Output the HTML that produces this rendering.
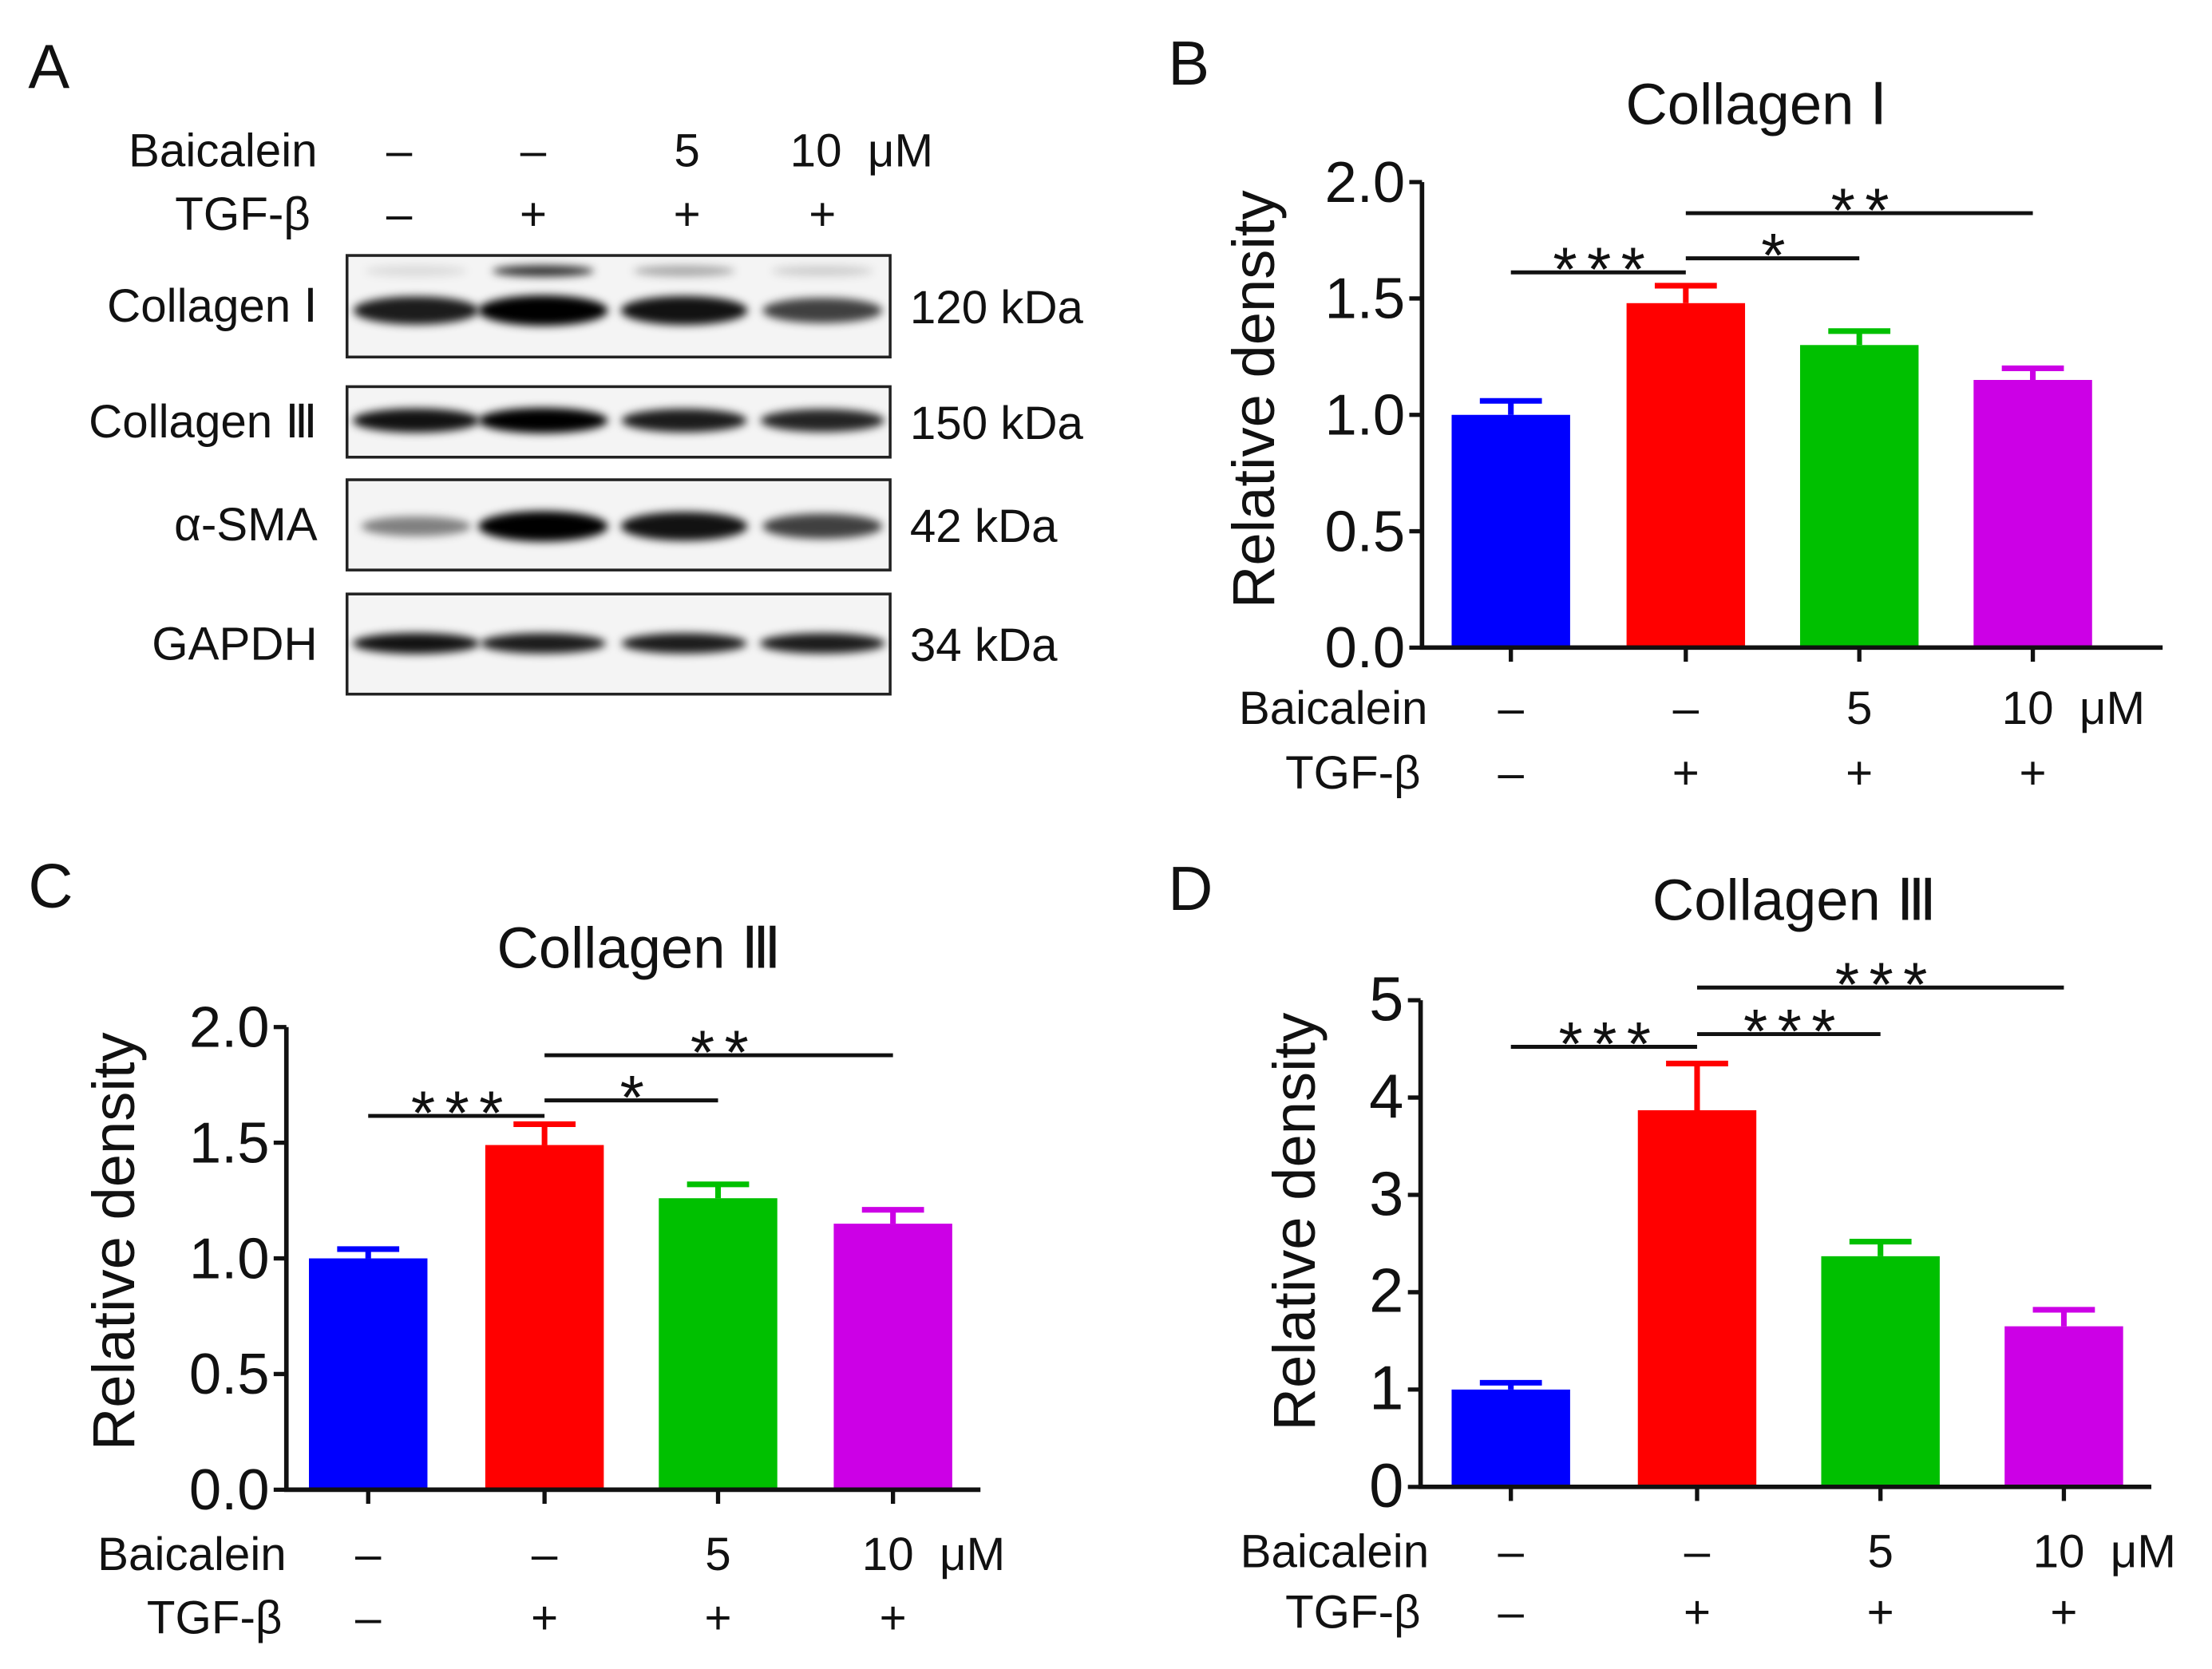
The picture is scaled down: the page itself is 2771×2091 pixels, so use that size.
<!DOCTYPE html>
<html><head><meta charset="utf-8"><style>
html,body{margin:0;padding:0;background:#fff}
svg{display:block}
text{font-family:"Liberation Sans","DejaVu Sans","Noto Sans CJK SC",sans-serif;fill:#111}
</style></head><body>
<svg id="fig" width="2771" height="2091" viewBox="0 0 1568 1183" xmlns="http://www.w3.org/2000/svg">
<defs><filter id="blur" x="-20%" y="-100%" width="140%" height="300%"><feGaussianBlur stdDeviation="3"/></filter></defs>
<g id="panelA">
<text x="20" y="62" font-size="44">A</text>
<text x="225" y="118" font-size="33" text-anchor="end">Baicalein</text>
<text x="220" y="163" font-size="33" text-anchor="end">TGF-β</text>
<text x="283" y="118" font-size="33" text-anchor="middle">–</text>
<text x="378" y="118" font-size="33" text-anchor="middle">–</text>
<text x="487" y="118" font-size="33" text-anchor="middle">5</text>
<text x="560" y="118" font-size="33">10&#160;&#160;μM</text>
<text x="283" y="163" font-size="33" text-anchor="middle">–</text>
<text x="378" y="163" font-size="33" text-anchor="middle">+</text>
<text x="487" y="163" font-size="33" text-anchor="middle">+</text>
<text x="583" y="163" font-size="33" text-anchor="middle">+</text>
</g>
<g id="panelB"></g>
<g id="panelC"></g>
<g id="panelD"></g>
</svg>
<script>
const NS="http://www.w3.org/2000/svg";
// Panel B data
const catsB=["Control","TGF-β","TGF-β+Baicalein 5","TGF-β+Baicalein 10"];
const valsB=[1.0,1.48,1.30,1.15];
const errB=[1.06,1.555,1.36,1.20];
const ticksB=["0.0","0.5","1.0","1.5","2.0"];
// Panel C data
const valsC=[1.0,1.49,1.26,1.15];
const errC=[1.04,1.58,1.32,1.21];
const ticksC=["0.0","0.5","1.0","1.5","2.0"];
// Panel D data
const valsD=[1.0,3.87,2.37,1.65];
const errD=[1.07,4.35,2.52,1.82];
const ticksD=["0","1","2","3","4","5"];
const colors=["#0000ff","#ff0000","#00c000","#cc00e6"];
const sigB=[[0,1,"***"],[1,2,"*"],[1,3,"**"]];
const sigC=[[0,1,"***"],[1,2,"*"],[1,3,"**"]];
const sigD=[[0,1,"***"],[1,2,"***"],[1,3,"***"]];
// Blot band intensities (0-1) per lane
const bandsCol1=[0.85,1.0,0.9,0.65];
const bandsCol3=[0.9,1.0,0.85,0.8];
const bandsSMA=[0.3,1.0,0.9,0.65];
const bandsGAPDH=[0.9,0.85,0.85,0.85];

function el(parent,tag,attrs,txt){const e=document.createElementNS(NS,tag);for(const k in attrs)e.setAttribute(k,attrs[k]);if(txt!==undefined)e.textContent=txt;parent.appendChild(e);return e;}

const pA=document.getElementById('panelA');
const lanes=[295,385,485,583];
const blots=[
 {y:181,h:72,label:"Collagen Ⅰ",kda:"120 kDa",bands:bandsCol1,by:220,bh:18,upper:true},
 {y:274,h:50,label:"Collagen Ⅲ",kda:"150 kDa",bands:bandsCol3,by:298,bh:15},
 {y:340,h:64,label:"α-SMA",kda:"42 kDa",bands:bandsSMA,by:373,bh:18},
 {y:421,h:71,label:"GAPDH",kda:"34 kDa",bands:bandsGAPDH,by:456,bh:13}
];
blots.forEach((b,bi)=>{
 const g=el(pA,'g',{});
 
 
 el(g,'rect',{x:246,y:b.y,width:385,height:b.h,fill:"#f4f4f4",stroke:"#222","stroke-width":2});
 b.bands.forEach((v,i)=>{
  const band=el(g,'ellipse',{cx:lanes[i],cy:b.by,rx:36+10*v,ry:b.bh/2*(0.6+0.6*v),fill:"rgb(0,0,0)","fill-opacity":0.25+0.75*v,filter:"url(#blur)"});
  
  
  if(b.upper){el(g,'ellipse',{cx:lanes[i],cy:192,rx:36,ry:4,fill:"#000","fill-opacity":[0.1,0.8,0.3,0.15][i],filter:"url(#blur)"});}
 });
 const t=el(pA,'text',{x:225,y:b.y+b.h/2+11,"font-size":33,"text-anchor":"end"},b.label);
 
 
 const k=el(pA,'text',{x:645,y:b.y+b.h/2+12,"font-size":33},b.kda);
 
 
});

function chart(id,cfg){
 const g=document.getElementById(id);
 const {ax,axEnd,y0,yTop,max,centers,vals,errs,ticks,sig,sigY,title,titleX,titleY,letter,lx,ly,ylabX,ylabY,rowB,rowT,baicX,tgfX,tickFont}=cfg;
 const y=v=>y0-(v/max)*(y0-yTop);
 const bw=84;
 let t=el(g,'text',{x:lx,y:ly,"font-size":44},letter);
 
 
 t=el(g,'text',{x:titleX,y:titleY,"font-size":41,"text-anchor":"middle"},title);
 
 
 t=el(g,'text',{x:ylabX,y:ylabY,"font-size":42,"text-anchor":"middle",transform:`rotate(-90 ${ylabX} ${ylabY})`},"Relative density");
 
 
 vals.forEach((v,i)=>{
  const r=el(g,'rect',{x:centers[i]-bw/2,y:y(v),width:bw,height:y0-y(v),fill:colors[i]});
  
  
  const e=el(g,'path',{d:`M${centers[i]} ${y(v)} V${y(errs[i])} M${centers[i]-22} ${y(errs[i])} H${centers[i]+22}`,stroke:colors[i],"stroke-width":4,fill:"none"});
  
  
 });
 const axis=el(g,'path',{d:`M${ax} ${yTop} V${y0} H${axEnd}`,stroke:"#111","stroke-width":3.2,fill:"none"});
 
 
 ticks.forEach((lab,i)=>{
  const v=max*i/(ticks.length-1);
  el(g,'line',{x1:ax-9,x2:ax,y1:y(v),y2:y(v),stroke:"#111","stroke-width":3});
  const tl=el(g,'text',{x:ax-12,y:y(v)+14,"font-size":tickFont,"text-anchor":"end"},lab);
  
  
 });
 centers.forEach(c=>el(g,'line',{x1:c,x2:c,y1:y0,y2:y0+10,stroke:"#111","stroke-width":3}));
 sig.forEach((s,i)=>{
  const x1=centers[s[0]],x2=centers[s[1]],yy=sigY[i];
  const l=el(g,'line',{x1:x1,x2:x2,y1:yy,y2:yy,stroke:"#111","stroke-width":2.8});
  
  
  const st=el(g,'text',{x:(x1+x2)/2+4,y:yy+13,"font-size":44,"text-anchor":"middle","letter-spacing":"7"},s[2]);
  
  
 });
 t=el(g,'text',{x:baicX,y:rowB+11,"font-size":33,"text-anchor":"end"},"Baicalein");
 
 
 t=el(g,'text',{x:tgfX,y:rowT+11,"font-size":33,"text-anchor":"end"},"TGF-β");
 
 
 const bs=["–","–","5"],ts=["–","+","+","+"];
 bs.forEach((s,i)=>el(g,'text',{x:centers[i],y:rowB+11,"font-size":33,"text-anchor":"middle"},s));
 el(g,'text',{x:centers[3]-22,y:rowB+11,"font-size":33},"10\u00a0\u00a0μM");
 ts.forEach((s,i)=>el(g,'text',{x:centers[i],y:rowT+11,"font-size":33,"text-anchor":"middle"},s));
}
chart('panelB',{ax:1008,axEnd:1533,y0:459,yTop:129,max:2,centers:[1071,1195,1318,1441],vals:valsB,errs:errB,ticks:ticksB,sig:sigB,sigY:[193,183,151],title:"Collagen Ⅰ",titleX:1245,titleY:88,letter:"B",lx:828,ly:60,ylabX:903,ylabY:283,rowB:502,rowT:548,baicX:1012,tgfX:1007,tickFont:41});
chart('panelC',{ax:203,axEnd:695,y0:1056,yTop:728,max:2,centers:[261,386,509,633],vals:valsC,errs:errC,ticks:ticksC,sig:sigC,sigY:[791,780,748],title:"Collagen Ⅲ",titleX:453,titleY:686,letter:"C",lx:20,ly:643,ylabX:95,ylabY:880,rowB:1102,rowT:1147,baicX:203,tgfX:200,tickFont:41});
chart('panelD',{ax:1007,axEnd:1525,y0:1054,yTop:709,max:5,centers:[1071,1203,1333,1463],vals:valsD,errs:errD,ticks:ticksD,sig:sigD,sigY:[742,733,700],title:"Collagen Ⅲ",titleX:1272,titleY:652,letter:"D",lx:828,ly:645,ylabX:932,ylabY:866,rowB:1100,rowT:1143,baicX:1013,tgfX:1007,tickFont:44});
</script>
</body></html>
